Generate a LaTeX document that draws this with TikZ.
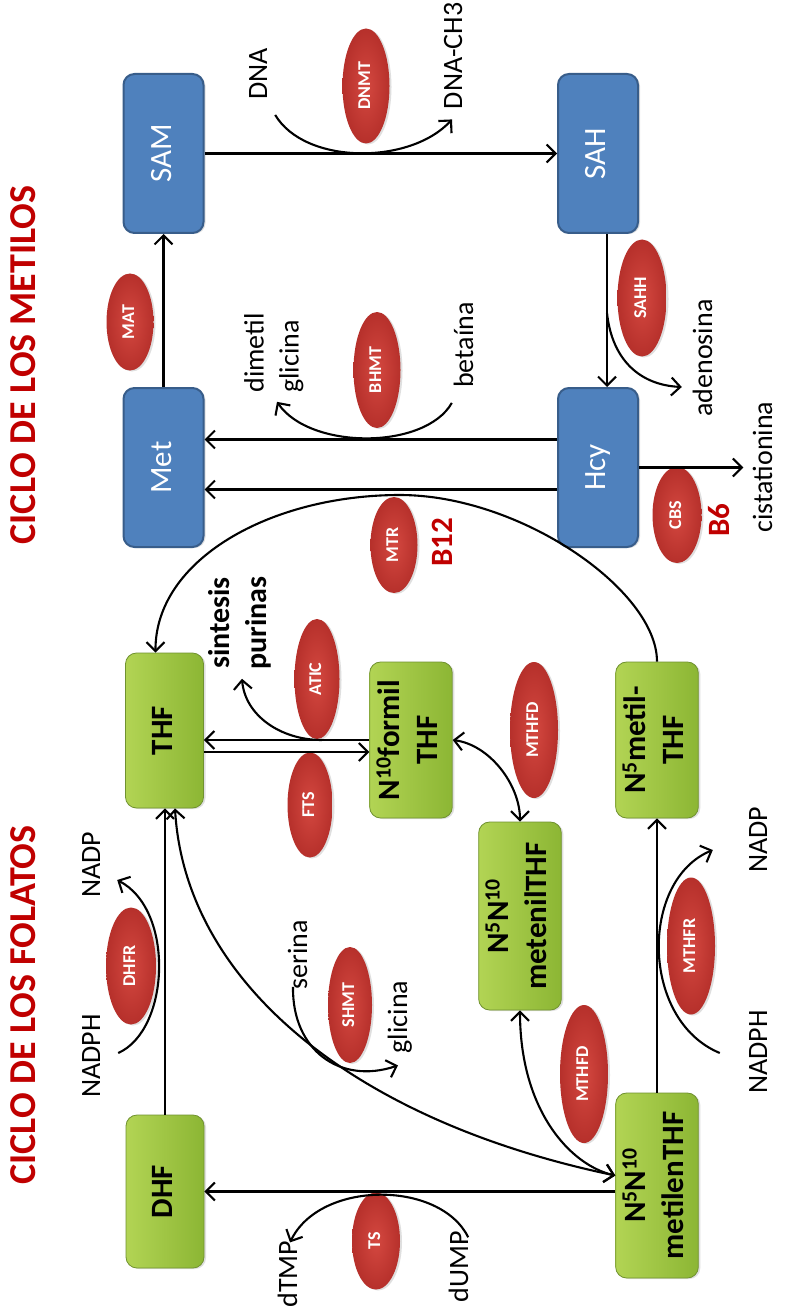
\documentclass[tikz,border=0pt]{standalone}
\usepackage{fontspec}
\setmainfont{Carlito}
\usepackage{graphicx}
\usepackage{xcolor}
\usepackage{tikz}
\usetikzlibrary{arrows.meta,positioning,calc,shapes.geometric,shadows}
\definecolor{cycBlue}{RGB}{79,129,189}
\definecolor{cycBlueEdge}{RGB}{56,93,138}
\definecolor{folLight}{RGB}{178,212,84}
\definecolor{folDark}{RGB}{140,182,52}
\definecolor{folEdge}{RGB}{112,146,48}
\definecolor{enzLight}{RGB}{212,72,64}
\definecolor{enzDark}{RGB}{182,48,43}
\definecolor{titleRed}{RGB}{192,0,0}
\newcommand{\uptext}[1]{\rotatebox{90}{\begin{tabular}{@{}c@{}}#1\end{tabular}}}
\newcommand{\uptextl}[1]{\rotatebox{90}{\begin{tabular}{@{}l@{}}#1\end{tabular}}}

\begin{document}
\begin{tikzpicture}[
    x=1pt, y=-1pt,
    metbox/.style={rectangle, rounded corners=11pt, draw=cycBlueEdge, line width=2pt, fill=cycBlue, text=white, minimum width=80pt, minimum height=159pt, font=\fontsize{31}{38}\selectfont, drop shadow={opacity=0.25, shadow xshift=2pt, shadow yshift=-1pt}},
    folbox/.style={rectangle, rounded corners=11pt, draw=folEdge, line width=0.8pt, left color=folLight, right color=folDark, minimum width=78pt, minimum height=#1, font=\fontsize{31}{38}\selectfont\bfseries, drop shadow={opacity=0.25, shadow xshift=2pt, shadow yshift=-1pt}},
    folbox/.default=155pt,
    enz/.style={ellipse, inner color=enzLight, outer color=enzDark, text=white, minimum width=47pt, minimum height=#1, inner sep=0pt, font=\fontsize{18}{20}\selectfont\bfseries, drop shadow={opacity=0.25, shadow xshift=2pt, shadow yshift=-1pt}},
    enz/.default=115pt,
    lbl/.style={inner sep=1pt, font=\fontsize{28}{35}\selectfont},
    blbl/.style={inner sep=1pt, font=\fontsize{30}{37}\selectfont\bfseries},
    vit/.style={inner sep=1pt, text=titleRed, font=\fontsize{31}{37}\selectfont\bfseries},
    cyctitle/.style={inner sep=1pt, text=titleRed, font=\fontsize{38}{44}\selectfont\bfseries},
    arrow/.style={-{Straight Barb[length=9pt,width=18pt]}, line width=2.1pt},
    twoway/.style={{Straight Barb[length=9pt,width=18pt]}-{Straight Barb[length=9pt,width=18pt]}, line width=2.1pt},
    link/.style={line width=2.1pt}
]
\fill[white] (0,0) rectangle (784,1313);
\useasboundingbox (0,0) rectangle (784,1313);

% titulos
\node[cyctitle] (titMet) at (27,365) {\uptext{CICLO DE LOS METILOS}};
\node[cyctitle] (titFol) at (27,1005) {\uptext{CICLO DE LOS FOLATOS}};

% ciclo de los metilos
\node[metbox] (SAM) at (163.5,153.5) {\uptext{SAM}};
\node[metbox] (SAH) at (598,153.5) {\uptext{SAH}};
\node[metbox] (Met) at (163.5,467.5) {\uptext{Met}};
\node[metbox] (Hcy) at (598,467.5) {\uptext{Hcy}};

\node[enz] (DNMT) at (366,86) {\uptext{DNMT}};
\node[enz=97pt] (MAT) at (130,322) {\uptext{MAT}};
\node[enz=116pt] (BHMT) at (377,370) {\uptext{BHMT}};
\node[enz=117pt, minimum width=49pt] (SAHH) at (642,298) {\uptext{SAHH}};
\node[enz=96pt] (MTR) at (394,545) {\uptext{MTR}};
\node[enz=96pt, minimum width=49pt] (CBS) at (677,515) {\uptext{CBS}};

\node[lbl] (DNA) at (260,74) {\uptext{DNA}};
\node[lbl] (DNACH) at (455,56) {\uptext{DNA-CH3}};
\node[lbl] (dimetil) at (274,353) {\uptextl{dimetil\\glicina}};
\node[lbl] (betaina) at (466,345) {\uptext{betaína}};
\node[lbl] (adenosina) at (705,358) {\uptext{adenosina}};
\node[lbl] (cista) at (765,467) {\uptext{cistationina}};
\node[vit] (B12) at (445,542) {\uptext{B12}};
\node[vit] (B6) at (722,520) {\uptext{B6}};

% ciclo de los folatos
\node[folbox] (THF) at (164.5,730.5) {\uptext{THF}};
\node[folbox=156pt] (formil) at (411,740) {\uptext{N\textsuperscript{10}formil\\THF}};
\node[folbox=156pt] (metil) at (657,740) {\uptext{N\textsuperscript{5}metil-\\THF}};
\node[folbox=188pt, minimum width=80pt] (metenil) at (520,916) {\uptext{N\textsuperscript{5}N\textsuperscript{10}\\metenilTHF}};
\node[folbox=153pt] (DHF) at (165,1191.5) {\uptext{DHF}};
\node[folbox=185pt] (metilen) at (657,1185.5) {\uptext{N\textsuperscript{5}N\textsuperscript{10}\\metilenTHF}};

\node[enz=120pt, minimum width=45pt] (ATIC) at (317,679) {\uptext{ATIC}};
\node[enz=105pt, minimum width=45pt] (FTS) at (310,805) {\uptext{FTS}};
\node[enz=136pt, minimum width=48pt] (MTHFDa) at (534,730) {\uptext{MTHFD}};
\node[enz=117pt, minimum width=50pt] (DHFR) at (131,966) {\uptext{DHFR}};
\node[enz=116pt, minimum width=44pt] (SHMT) at (350,1005) {\uptext{SHMT}};
\node[enz=97pt, minimum width=48pt] (TS) at (376,1241) {\uptext{TS}};
\node[enz=138pt, minimum width=48pt] (MTHFDb) at (584,1074) {\uptext{MTHFD}};
\node[enz=137pt, minimum width=48pt] (MTHFR) at (691,946) {\uptext{MTHFR}};

\node[blbl] (purinas) at (241,623) {\uptext{sintesis\\purinas}};
\node[lbl] (NADPHa) at (93,1056) {\uptext{NADPH}};
\node[lbl] (NADPa) at (93,865) {\uptext{NADP}};
\node[lbl] (serina) at (300,955) {\uptext{serina}};
\node[lbl] (glicina) at (400,1017) {\uptext{glicina}};
\node[lbl] (dTMP) at (290,1274) {\uptext{dTMP}};
\node[lbl] (dUMP) at (461,1267) {\uptext{dUMP}};
\node[lbl] (NADPHb) at (760,1052) {\uptext{NADPH}};
\node[lbl] (NADPb) at (760,840) {\uptext{NADP}};

\coordinate (sahhFork) at (607,313);
\coordinate (aticFork) at (322,740);

% metilos
\draw[arrow] (SAM.east) -- (SAH.west);
\draw[arrow] ($(DNA.south east)+(-3.5,14)$) .. controls (305,165) and (410,165) .. ($(DNACH.south)+(-3,9)$);
\draw[arrow] (Met.north) -- (SAM.south);
\draw[arrow] ($(Hcy.west)+(0,-28)$) -- ($(Met.east)+(0,-28)$);
\draw[arrow] ($(betaina.south west)+(4.5,14)$) .. controls (425,450) and (310,450) .. ($(dimetil.south)+(3,8)$);
\draw[arrow] ($(Hcy.west)+(0,22)$) -- ($(Met.east)+(0,22)$);
\draw[arrow] ($(SAH.south)+(9,0)$) -- ($(Hcy.north)+(9,0)$);
\draw[arrow] (sahhFork) .. controls (612,360) and (640,385) .. ($(adenosina.west)+(-4.5,29)$);
\draw[arrow] (Hcy.east) -- ($(Hcy.east -| cista.west)+(-3,0)$);
\draw[arrow] (metil.north) .. controls (657,590) and (520,495) .. (400,495)
    .. controls (270,495) and (155,560) .. ($(THF.north)+(-9,0)$);

% folatos
\draw[arrow] (formil.west) -- (formil.west -| THF.east);
\draw[arrow] ($(formil.west -| THF.east)+(0,12)$) -- ($(formil.west)+(0,12)$);
\draw[arrow] (aticFork) .. controls (280,740) and (245,715) .. ($(purinas.south)+(1,8)$);
\draw[twoway] (formil.east) .. controls (490,745) and (520,785) .. (metenil.north);
\draw[twoway] (metenil.south) .. controls (520,1110) and (570,1165) .. ($(metilen.west)+(0,-10)$);
\draw[twoway] ($(THF.south)+(10.5,0)$) .. controls (185,980) and (350,1120) .. ($(metilen.west)+(0,-10)$);
\draw[arrow] ($(serina.south)+(-7,-4)$) .. controls (292,1050) and (340,1085) .. ($(glicina.south)+(-2,11)$);
\draw[arrow] (DHF.north) -- (DHF.north |- THF.south);
\draw[arrow] ($(NADPHa.east)+(6.5,-3)$) .. controls (170,1030) and (175,910) .. ($(NADPa.east)+(5.5,15)$);
\draw[arrow] (metilen.west |- DHF.east) -- (DHF.east);
\draw[arrow] ($(dUMP.north east)+(-11.5,7)$) .. controls (440,1180) and (320,1180) .. ($(dTMP.north)+(0,3)$);
\draw[arrow] (metilen.north) -- (metil.south);
\draw[arrow] ($(NADPHb.west)+(-21.5,1)$) .. controls (640,1020) and (640,880) .. ($(NADPb.west)+(-28.5,10)$);
\end{tikzpicture}
\end{document}
